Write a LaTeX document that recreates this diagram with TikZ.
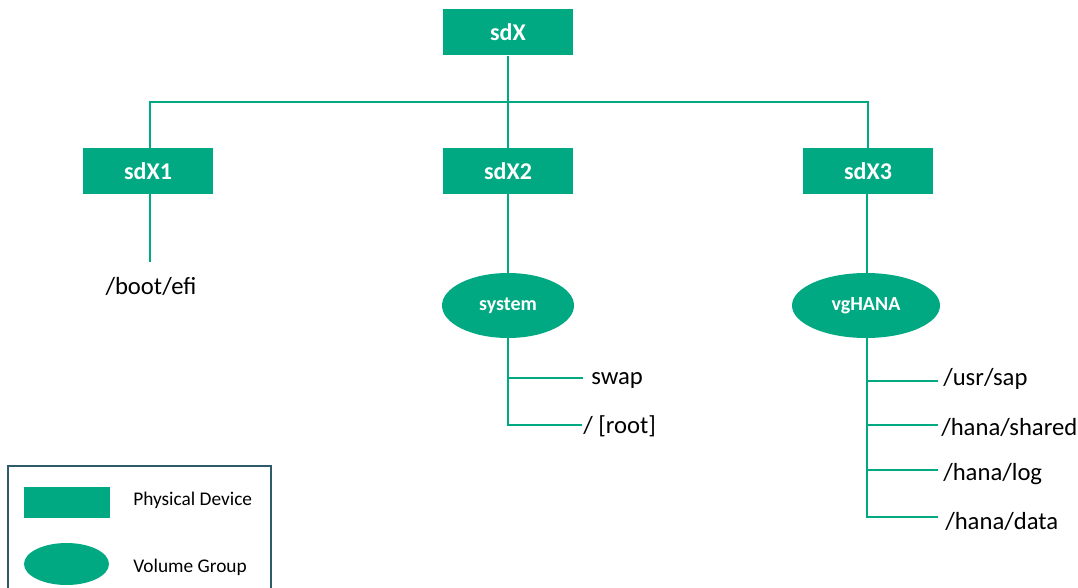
\documentclass[tikz,border=0pt]{standalone}
\usepackage{fontspec}
\setmainfont{Carlito}
\usetikzlibrary{shapes.geometric}
\definecolor{hpegreen}{HTML}{01A982}
\definecolor{legframe}{HTML}{2E5B6B}
\tikzset{
  pdev/.style={rectangle, fill=hpegreen, draw=none, minimum width=130*0.75pt, minimum height=46*0.75pt, inner sep=0pt, text=white, font=\fontsize{18}{20}\selectfont\bfseries},
  vgrp/.style={ellipse, fill=hpegreen, draw=none, inner sep=0pt, text=white, font=\fontsize{15}{17}\selectfont\bfseries},
  conn/.style={draw=hpegreen, line width=1.5pt},
  mnt/.style={inner sep=0pt, anchor=west, font=\fontsize{18.5}{20}\selectfont},
  legtxt/.style={inner sep=0pt, anchor=west, font=\fontsize{14.5}{16}\selectfont},
}
\begin{document}
\begin{tikzpicture}[x=0.75pt,y=-0.75pt]
\useasboundingbox (0,0) rectangle (1078,588);
% nodes
\node[pdev] (sdx) at (508,32.5) {sdX};
\node[pdev] (sdx1) at (148,171) {sdX1};
\node[pdev] (sdx2) at (508,171) {sdX2};
\node[pdev] (sdx3) at (868,171) {sdX3};
\node[vgrp, minimum width=132*0.75pt, minimum height=65*0.75pt] (system) at (508,305.5) {system};
\node[vgrp, minimum width=148*0.75pt, minimum height=65*0.75pt] (vghana) at (866,305.5) {vgHANA};
\node[inner sep=0pt, font=\fontsize{18.5}{20}\selectfont] (boot) at (151,286) {/boot/efi};
\node[mnt] (swap) at (591,380) {swap};
\node[mnt] (root) at (583,426) {/ [root]};
\node[mnt] (usr) at (943,379) {/usr/sap};
\node[mnt] (shared) at (941,427) {/hana/shared};
\node[mnt] (log) at (943,474) {/hana/log};
\node[mnt] (data) at (945,521) {/hana/data};
% connectors
\coordinate (bus) at (508,102);
\draw[conn] (sdx.south) -- (bus);
\draw[conn] (sdx1.north -| 150,0) -- (150,102) -- (868,102) -- (sdx3.north);
\draw[conn] (bus) -- (sdx2.north);
\draw[conn] (sdx1.south -| 150,0) -- (150,262);
\draw[conn] (sdx2.south) -- (system.north);
\draw[conn] (sdx3.south -| 867,0) -- (867,273);
\coordinate (sysend) at (508,425);
\draw[conn] (system.south) -- (sysend) -- (582,425);
\draw[conn] (508,378) -- (583,378);
\coordinate (vgend) at (867,517);
\draw[conn] (vghana.south -| 867,0) -- (vgend) -- (938,517);
\draw[conn] (867,381) -- (938,381);
\draw[conn] (867,425) -- (938,425);
\draw[conn] (867,470) -- (938,470);
% legend
\draw[legframe, line width=1.2pt] (8,600) -- (8,466) -- (271,466) -- (271,600);
\node[rectangle, fill=hpegreen, minimum width=86*0.75pt, minimum height=31*0.75pt, inner sep=0pt] (legrect) at (67,502.5) {};
\node[ellipse, fill=hpegreen, minimum width=85*0.75pt, minimum height=42*0.75pt, inner sep=0pt] (legell) at (66.5,564) {};
\node[legtxt] (legpd) at (133,500) {Physical Device};
\node[legtxt] (legvg) at (133,567) {Volume Group};
\end{tikzpicture}
\end{document}
